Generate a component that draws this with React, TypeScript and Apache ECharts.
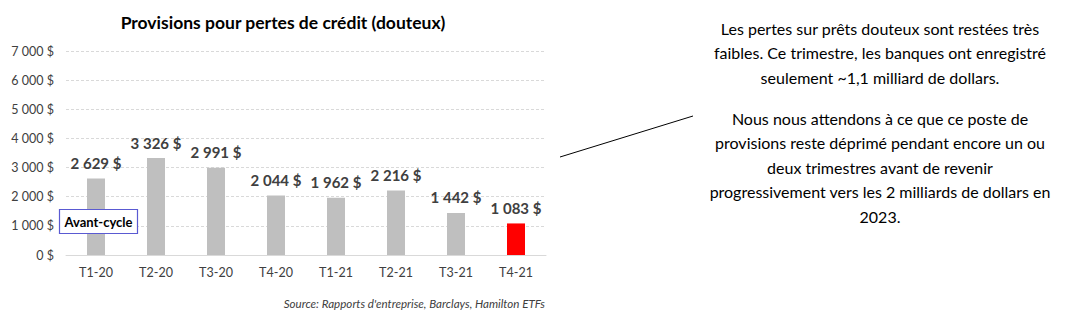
import React, { useEffect, useRef } from "react";
import * as echarts from "echarts";

const categories = ["T1-20", "T2-20", "T3-20", "T4-20", "T1-21", "T2-21", "T3-21", "T4-21"];
const provisions = [2629, 3326, 2991, 2044, 1962, 2216, 1442, 1083];
const highlightIndex = 7;
const titleText = "Provisions pour pertes de crédit (douteux)";
const sourceText = "Source: Rapports d'entreprise, Barclays, Hamilton ETFs";
const boxText = "Avant-cycle";
const para1 = [
  "Les pertes sur prêts douteux sont restées très",
  "faibles. Ce trimestre, les banques ont enregistré",
  "seulement ~1,1 milliard de dollars.",
];
const para2 = [
  "Nous nous attendons à ce que ce poste de",
  "provisions reste déprimé pendant encore un ou",
  "deux trimestres avant de revenir",
  "progressivement vers les 2 milliards de dollars en",
  "2023.",
];

const FONT = "Lato, 'Open Sans', sans-serif";

function fmt(v: number): string {
  const s = String(Math.round(v));
  return s.replace(/\B(?=(\d{3})+(?!\d))/g, " ") + " $";
}

export default function App() {
  const ref = useRef<HTMLDivElement>(null);
  useEffect(() => {
    if (!ref.current) return;
    const chart = echarts.init(ref.current, undefined, { renderer: "svg" });
    const textLines: any[] = [];
    para1.forEach((t, i) => {
      textLines.push({
        type: "text",
        x: 880,
        y: 28 + i * 24.5,
        style: { text: t, fill: "#000", font: `16px ${FONT}`, textAlign: "center", textVerticalAlign: "middle" },
      });
    });
    para2.forEach((t, i) => {
      textLines.push({
        type: "text",
        x: 880,
        y: 118 + i * 24.5,
        style: { text: t, fill: "#000", font: `16px ${FONT}`, textAlign: "center", textVerticalAlign: "middle" },
      });
    });
    chart.setOption({
      animation: false,
      grid: { left: 66, right: 525, top: 51, bottom: 66 },
      title: {
        text: titleText,
        left: 278,
        textAlign: "center",
        top: 8,
        textStyle: { fontFamily: FONT, fontSize: 17.5, fontWeight: "bold", color: "#000" },
      },
      xAxis: {
        type: "category",
        data: categories,
        axisLine: { show: true, lineStyle: { color: "#d9d9d9", width: 1 } },
        axisTick: { show: false },
        axisLabel: { fontFamily: FONT, fontSize: 12.5, color: "#404040", margin: 11 },
      },
      yAxis: {
        type: "value",
        min: 0,
        max: 7000,
        interval: 1000,
        axisLine: { show: false },
        axisTick: { show: false },
        axisLabel: {
          fontFamily: FONT,
          fontSize: 12.5,
          color: "#404040",
          margin: 12,
          formatter: (v: number) => fmt(v),
        },
        splitLine: { show: true, lineStyle: { color: "#d9d9d9", type: [3, 2], width: 1 } },
      },
      series: [
        {
          type: "bar",
          data: provisions.map((v, i) => ({
            value: v,
            itemStyle: { color: i === highlightIndex ? "#ff0000" : "#bfbfbf" },
          })),
          barWidth: 18,
          label: {
            show: true,
            position: "top",
            distance: 8,
            fontFamily: FONT,
            fontSize: 15,
            fontWeight: "bold",
            color: "#404040",
            formatter: (p: any) => fmt(p.value),
          },
        },
      ],
      graphic: [
        {
          type: "rect",
          shape: { x: 59.5, y: 209.5, width: 78, height: 24 },
          style: { fill: "#ffffff", stroke: "#5a5ad2", lineWidth: 1.2 },
          z: 100,
        },
        {
          type: "text",
          x: 98.5,
          y: 221.5,
          z: 101,
          style: {
            text: boxText,
            fill: "#000",
            font: `bold 13px ${FONT}`,
            textAlign: "center",
            textVerticalAlign: "middle",
          },
        },
        {
          type: "text",
          x: 545,
          y: 303,
          style: {
            text: sourceText,
            fill: "#404040",
            font: `italic 11.6px ${FONT}`,
            textAlign: "right",
            textVerticalAlign: "middle",
          },
        },
        {
          type: "line",
          shape: { x1: 560, y1: 157, x2: 693, y2: 116 },
          style: { stroke: "#000", lineWidth: 1 },
        },
        ...textLines,
      ],
    });
    return () => chart.dispose();
  }, []);
  return (
    <div
      ref={ref}
      style={{ position: "fixed", left: 0, top: 0, width: 1071, height: 321, background: "#fff" }}
    />
  );
}
